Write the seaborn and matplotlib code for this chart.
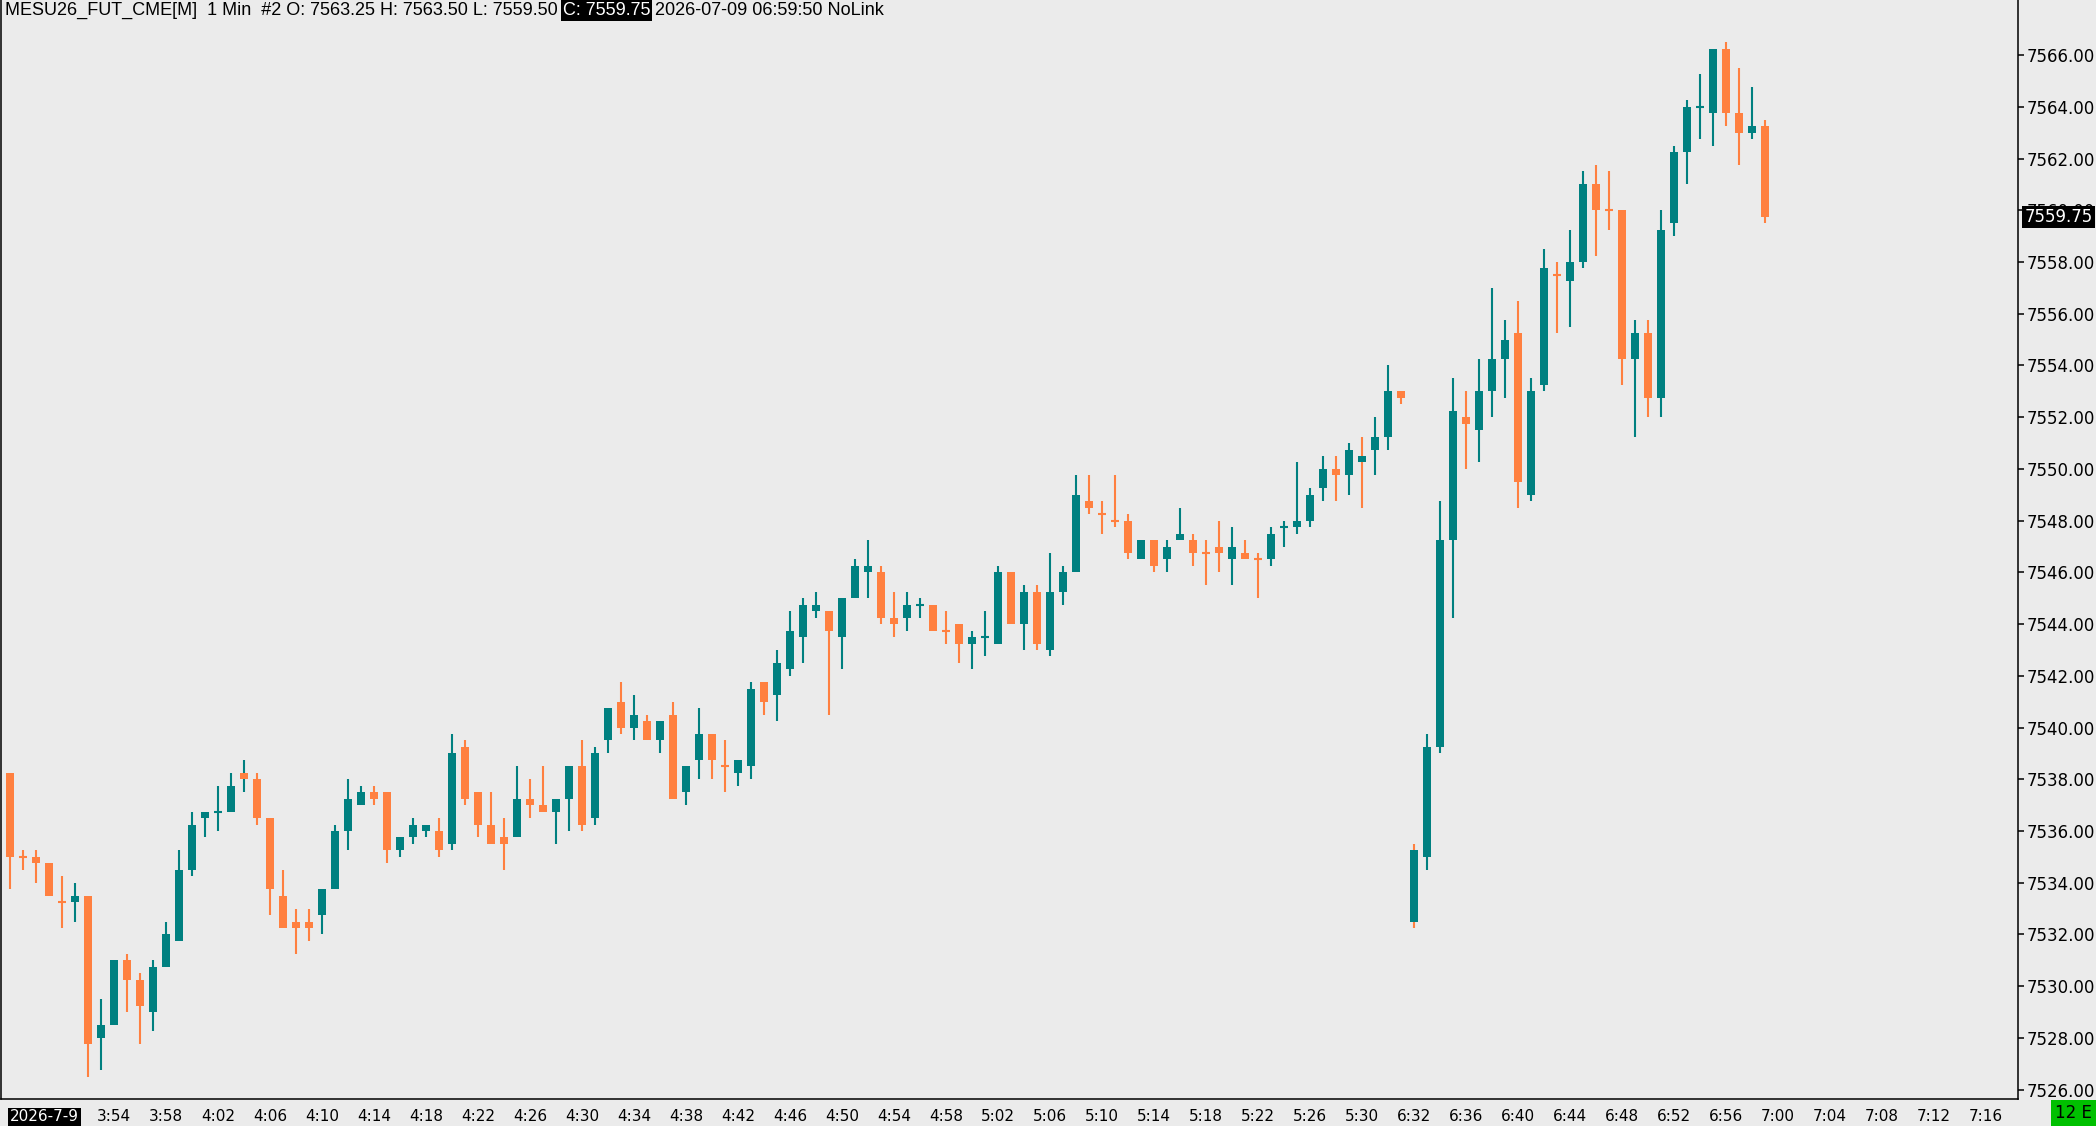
import matplotlib
matplotlib.use("Agg")
import matplotlib.pyplot as plt
import seaborn as sns
import numpy as np
import pandas as pd

# 1 min bars, MESU26, 3:46-5:33 then 6:32-6:59
opens = [7538.25, 7535.0, 7535.0, 7534.75, 7533.25, 7533.25, 7533.5, 7528.0, 7528.5, 7531.0,
         7530.25, 7529.0, 7530.75, 7531.75, 7534.5, 7536.5, 7536.75, 7536.75, 7538.25, 7538.0,
         7536.5, 7533.5, 7532.5, 7532.5, 7532.75, 7533.75, 7536.0, 7537.0, 7537.5, 7537.5,
         7535.25, 7535.75, 7536.0, 7536.0, 7535.5, 7539.25, 7537.5, 7536.25, 7535.75, 7535.75,
         7537.25, 7537.0, 7536.75, 7537.25, 7538.5, 7536.5, 7539.5, 7541.0, 7540.0, 7540.25,
         7539.5, 7540.5, 7537.5, 7538.75, 7539.75, 7538.5, 7538.25, 7538.5, 7541.75, 7541.25,
         7542.25, 7543.5, 7544.5, 7544.5, 7543.5, 7545.0, 7546.0, 7546.0, 7544.25, 7544.25,
         7544.75, 7544.75, 7543.75, 7544.0, 7543.25, 7543.5, 7543.25, 7546.0, 7544.0, 7545.25,
         7543.0, 7545.25, 7546.0, 7548.75, 7548.25, 7548.0, 7548.0, 7546.5, 7547.25, 7546.5,
         7547.25, 7547.25, 7546.75, 7547.0, 7546.5, 7546.75, 7546.5, 7546.5, 7547.75, 7547.75,
         7548.0, 7549.25, 7550.0, 7549.75, 7550.25, 7550.75, 7551.25, 7553.0,
         7532.5, 7535.0, 7539.25, 7547.25, 7552.0, 7551.5, 7553.0, 7554.25, 7555.25, 7549.0,
         7553.25, 7557.5, 7557.25, 7558.0, 7561.0, 7560.0, 7560.0, 7554.25, 7555.25, 7552.75,
         7559.5, 7562.25, 7564.0, 7563.75, 7566.25, 7563.75, 7563.0, 7563.25]
highs = [7538.25, 7535.25, 7535.25, 7534.75, 7534.25, 7534.0, 7533.5, 7529.5, 7531.0, 7531.25,
         7530.5, 7531.0, 7532.5, 7535.25, 7536.75, 7536.75, 7537.75, 7538.25, 7538.75, 7538.25,
         7536.5, 7534.5, 7533.0, 7533.0, 7533.75, 7536.25, 7538.0, 7537.75, 7537.75, 7537.5,
         7535.75, 7536.5, 7536.25, 7536.5, 7539.75, 7539.5, 7537.5, 7537.5, 7536.5, 7538.5,
         7538.0, 7538.5, 7537.25, 7538.5, 7539.5, 7539.25, 7540.75, 7541.75, 7541.25, 7540.5,
         7540.25, 7541.0, 7538.5, 7540.75, 7539.75, 7539.5, 7538.75, 7541.75, 7541.75, 7543.0,
         7544.5, 7545.0, 7545.25, 7544.5, 7545.0, 7546.5, 7547.25, 7546.25, 7545.25, 7545.25,
         7545.0, 7544.75, 7544.5, 7544.0, 7543.75, 7544.5, 7546.25, 7546.0, 7545.5, 7545.5,
         7546.75, 7546.25, 7549.75, 7549.75, 7548.75, 7549.75, 7548.25, 7547.25, 7547.25, 7547.25,
         7548.5, 7547.5, 7547.25, 7548.0, 7547.75, 7547.25, 7546.75, 7547.75, 7548.0, 7550.25,
         7549.25, 7550.5, 7550.5, 7551.0, 7551.25, 7552.0, 7554.0, 7553.0,
         7535.5, 7539.75, 7548.75, 7553.5, 7553.0, 7554.25, 7557.0, 7555.75, 7556.5, 7553.5,
         7558.5, 7558.0, 7559.25, 7561.5, 7561.75, 7561.5, 7560.0, 7555.75, 7555.75, 7560.0,
         7562.5, 7564.25, 7565.25, 7566.25, 7566.5, 7565.5, 7564.75, 7563.5]
lows = [7533.75, 7534.5, 7534.0, 7533.5, 7532.25, 7532.5, 7526.5, 7526.75, 7528.5, 7529.0,
        7527.75, 7528.25, 7530.75, 7531.75, 7534.25, 7535.75, 7536.0, 7536.75, 7537.5, 7536.25,
        7532.75, 7532.25, 7531.25, 7531.75, 7532.0, 7533.75, 7535.25, 7537.0, 7537.0, 7534.75,
        7535.0, 7535.5, 7535.75, 7535.0, 7535.25, 7537.0, 7535.75, 7535.5, 7534.5, 7535.75,
        7536.5, 7536.75, 7535.5, 7536.0, 7536.0, 7536.25, 7539.0, 7539.75, 7539.5, 7539.5,
        7539.0, 7537.25, 7537.0, 7538.0, 7538.0, 7537.5, 7537.75, 7538.0, 7540.5, 7540.25,
        7542.0, 7542.5, 7544.25, 7540.5, 7542.25, 7545.0, 7545.0, 7544.0, 7543.5, 7543.75,
        7544.25, 7543.75, 7543.25, 7542.5, 7542.25, 7542.75, 7543.25, 7544.0, 7543.0, 7543.0,
        7542.75, 7544.75, 7546.0, 7548.25, 7547.5, 7547.75, 7546.5, 7546.5, 7546.0, 7546.0,
        7547.25, 7546.25, 7545.5, 7546.0, 7545.5, 7546.5, 7545.0, 7546.25, 7547.0, 7547.5,
        7547.75, 7548.75, 7548.75, 7549.0, 7548.5, 7549.75, 7550.75, 7552.5,
        7532.25, 7534.5, 7539.0, 7544.25, 7550.0, 7550.25, 7552.0, 7552.75, 7548.5, 7548.75,
        7553.0, 7555.25, 7555.5, 7557.75, 7558.25, 7559.25, 7553.25, 7551.25, 7552.0, 7552.0,
        7559.0, 7561.0, 7562.75, 7562.5, 7563.25, 7561.75, 7562.75, 7559.5]
closes = [7535.0, 7535.0, 7534.75, 7533.5, 7533.25, 7533.5, 7527.75, 7528.5, 7531.0, 7530.25,
          7529.25, 7530.75, 7532.0, 7534.5, 7536.25, 7536.75, 7536.75, 7537.75, 7538.0, 7536.5,
          7533.75, 7532.25, 7532.25, 7532.25, 7533.75, 7536.0, 7537.25, 7537.5, 7537.25, 7535.25,
          7535.75, 7536.25, 7536.25, 7535.25, 7539.0, 7537.25, 7536.25, 7535.5, 7535.5, 7537.25,
          7537.0, 7536.75, 7537.25, 7538.5, 7536.25, 7539.0, 7540.75, 7540.0, 7540.5, 7539.5,
          7540.25, 7537.25, 7538.5, 7539.75, 7538.75, 7538.5, 7538.75, 7541.5, 7541.0, 7542.5,
          7543.75, 7544.75, 7544.75, 7543.75, 7545.0, 7546.25, 7546.25, 7544.25, 7544.0, 7544.75,
          7544.75, 7543.75, 7543.75, 7543.25, 7543.5, 7543.5, 7546.0, 7544.0, 7545.25, 7543.25,
          7545.25, 7546.0, 7549.0, 7548.5, 7548.25, 7548.0, 7546.75, 7547.25, 7546.25, 7547.0,
          7547.5, 7546.75, 7546.75, 7546.75, 7547.0, 7546.5, 7546.5, 7547.5, 7547.75, 7548.0,
          7549.0, 7550.0, 7549.75, 7550.75, 7550.5, 7551.25, 7553.0, 7552.75,
          7535.25, 7539.25, 7547.25, 7552.25, 7551.75, 7553.0, 7554.25, 7555.0, 7549.5, 7553.0,
          7557.75, 7557.5, 7558.0, 7561.0, 7560.0, 7560.0, 7554.25, 7555.25, 7552.75, 7559.25,
          7562.25, 7564.0, 7564.0, 7566.25, 7563.75, 7563.0, 7563.25, 7559.75]

# bar index of each x tick and its label (3:50 is hidden under the date box)
tick_pos = [0] + list(range(8, 153, 4))
tick_labels = ["2026-7-9",
               "3:54", "3:58", "4:02", "4:06", "4:10", "4:14", "4:18", "4:22", "4:26",
               "4:30", "4:34", "4:38", "4:42", "4:46", "4:50", "4:54", "4:58", "5:02",
               "5:06", "5:10", "5:14", "5:18", "5:22", "5:26", "5:30",
               "6:32", "6:36", "6:40", "6:44", "6:48", "6:52", "6:56", "7:00", "7:04",
               "7:08", "7:12", "7:16"]
price_ticks = list(range(7526, 7567, 2))

up_color = "#008080"
down_color = "#ff8040"
bg = "#ebebeb"

df = pd.DataFrame({"open": opens, "high": highs, "low": lows, "close": closes})
df["bar"] = np.arange(len(df))

# wick colour follows close vs previous close, unchanged close keeps the last colour
wick_up = []
state = False
for i, c in enumerate(df["close"]):
    if i > 0:
        if c > df["close"][i - 1]:
            state = True
        elif c < df["close"][i - 1]:
            state = False
    wick_up.append(state)
df["wick_up"] = wick_up
df["body_up"] = np.where(df["close"] > df["open"], True,
                         np.where(df["close"] < df["open"], False, df["wick_up"]))

sns.set_style("white", {"axes.facecolor": bg, "figure.facecolor": bg,
                        "axes.edgecolor": "black"})
plt.rcParams["font.family"] = ["DejaVu Sans"]

fig = plt.figure(figsize=(20.96, 11.26), dpi=100)
ax = fig.add_axes([0.0005, 0.024, 0.9623, 0.976])

wick_colors = [up_color if u else down_color for u in df["wick_up"]]
body_colors = [up_color if u else down_color for u in df["body_up"]]

ax.vlines(df["bar"], df["low"], df["high"], colors=wick_colors, linewidth=1.5, zorder=2)
body_lo = df[["open", "close"]].min(axis=1)
body_h = (df["close"] - df["open"]).abs()
ax.bar(df["bar"], body_h, bottom=body_lo, width=0.62, color=body_colors,
       linewidth=0, zorder=3)
doji = df[body_h == 0]
ax.hlines(doji["close"], doji["bar"] - 0.31, doji["bar"] + 0.31,
          colors=[body_colors[i] for i in doji.index], linewidth=1.5, zorder=3)

ax.set_xlim(-0.69, 154.5)
ax.set_ylim(7525.64, 7568.13)

ax.yaxis.tick_right()
ax.set_yticks(price_ticks)
ax.set_yticklabels([f"{p:.2f}" for p in price_ticks])
ax.set_xticks(tick_pos)
ax.set_xticklabels(tick_labels)
ax.tick_params(axis="y", direction="out", length=4, width=1.1, pad=2,
               labelsize=12, colors="black")
ax.tick_params(axis="x", direction="out", length=5, width=1.1, pad=2.5,
               labelsize=11, colors="black")
date_lbl = ax.get_xticklabels()[0]
date_lbl.set_horizontalalignment("left")
date_lbl.set_color("white")
date_lbl.set_bbox(dict(boxstyle="square,pad=0.12", fc="black", ec="none"))

for side in ["left", "bottom", "right"]:
    ax.spines[side].set_linewidth(1.1)
    ax.spines[side].set_color("black")
ax.spines["top"].set_visible(False)
ax.grid(False)

# last price marker on the price scale (it covers the 7560.00 label, as in the platform)
ax.annotate(f"{closes[-1]:.2f}", xy=(1, closes[-1]), xycoords=("axes fraction", "data"),
            xytext=(4.5, 0), textcoords="offset points", ha="left", va="center",
            fontsize=12, color="white",
            bbox=dict(boxstyle="square,pad=0.12", fc="black", ec="none"), zorder=5)

# header line
head_font = ["Liberation Sans", "DejaVu Sans"]
t1 = fig.text(5 / 2096, 1 - 2 / 1126,
              f"MESU26_FUT_CME[M]  1 Min  #2 O: {opens[-1]:.2f} H: {highs[-1]:.2f} "
              f"L: {lows[-1]:.2f} ",
              ha="left", va="top", fontsize=13, family=head_font, color="black")
a2 = ax.annotate(f"C: {closes[-1]:.2f}", xy=(1, 0), xycoords=t1, ha="left", va="bottom",
                 fontsize=13, family=head_font, color="white",
                 bbox=dict(boxstyle="square,pad=0.1", fc="black", ec="none"),
                 annotation_clip=False)
ax.annotate(" 2026-07-09 06:59:50 NoLink", xy=(1, 0), xycoords=a2, ha="left", va="bottom",
            fontsize=13, family=head_font, color="black", annotation_clip=False)

# connection status box, bottom right
fig.text(2092 / 2096, 4 / 1126, "12 E", ha="right", va="bottom", fontsize=12,
         color="black", bbox=dict(boxstyle="square,pad=0.25", fc="#00c000", ec="none"))

fig.savefig("out.png", dpi=100, facecolor=bg)
